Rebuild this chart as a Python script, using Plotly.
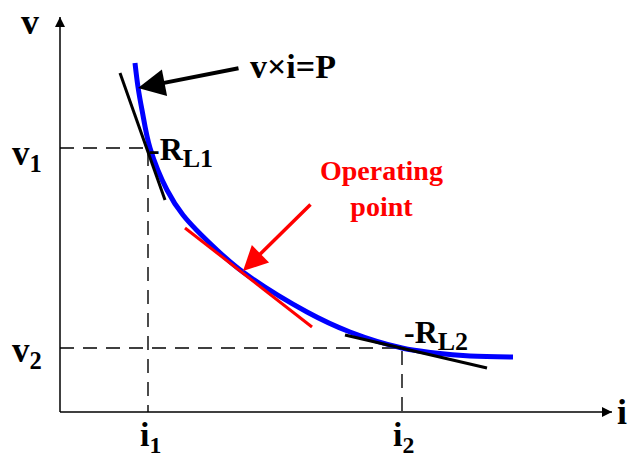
import plotly.graph_objects as go

# Constant-power curve v*i = P, sampled points (i, v)
curve_i = [1.50, 1.56, 1.64, 1.80, 2.14, 2.46, 3.14, 3.66, 4.94, 5.80, 6.84, 7.50, 8.20, 9.06]
curve_v = [8.725, 8.125, 7.55, 6.60, 5.55, 4.925, 4.05, 3.50, 2.50, 2.00, 1.60, 1.475, 1.40, 1.375]

# Marked points on the curve
i1, v1 = 1.76, 6.60
i2, v2 = 6.84, 1.60

# Load lines (tangents) as [start, end]
rl1_i = [1.20, 2.10]
rl1_v = [8.475, 5.30]
op_i = [2.50, 5.04]
op_v = [4.60, 2.125]
rl2_i = [5.70, 8.54]
rl2_v = [1.925, 1.10]

# Axis extents
i_max = 11.04
v_max = 9.875

SERIF = "Liberation Serif"

fig = go.Figure()

# Axes with arrow tips
fig.add_trace(go.Scatter(x=[0, 0], y=[0, v_max], mode="lines",
                         line=dict(color="black", width=1.5), hoverinfo="skip"))
fig.add_trace(go.Scatter(x=[0, i_max], y=[0, 0], mode="lines",
                         line=dict(color="black", width=1.5), hoverinfo="skip"))
fig.add_trace(go.Scatter(x=[0], y=[v_max], mode="markers",
                         marker=dict(symbol="arrow-up", size=10, color="black"), hoverinfo="skip"))
fig.add_trace(go.Scatter(x=[i_max], y=[0], mode="markers",
                         marker=dict(symbol="arrow-right", size=10, color="black"), hoverinfo="skip"))

# Dashed guides to the axes
dash = dict(color="black", width=1.4, dash="14px,9px")
fig.add_trace(go.Scatter(x=[0, i1, i1], y=[v1, v1, 0], mode="lines", line=dash, hoverinfo="skip"))
fig.add_trace(go.Scatter(x=[0, i2, i2], y=[v2, v2, 0], mode="lines", line=dash, hoverinfo="skip"))

# Constant-power curve
fig.add_trace(go.Scatter(x=curve_i, y=curve_v, mode="lines",
                         line=dict(color="#0000ff", width=5, shape="spline", smoothing=1.0),
                         hoverinfo="skip"))

# Load lines
fig.add_trace(go.Scatter(x=rl1_i, y=rl1_v, mode="lines", line=dict(color="black", width=3), hoverinfo="skip"))
fig.add_trace(go.Scatter(x=op_i, y=op_v, mode="lines", line=dict(color="#ff0000", width=3), hoverinfo="skip"))
fig.add_trace(go.Scatter(x=rl2_i, y=rl2_v, mode="lines", line=dict(color="black", width=3), hoverinfo="skip"))

# Pointer arrows
fig.add_annotation(x=1.56, y=8.10, ax=3.60, ay=8.60, xref="x", yref="y", axref="x", ayref="y",
                   text="", showarrow=True, arrowhead=2, arrowsize=1.35, arrowwidth=4, arrowcolor="black")
fig.add_annotation(x=3.66, y=3.525, ax=5.04, ay=5.225, xref="x", yref="y", axref="x", ayref="y",
                   text="", showarrow=True, arrowhead=2, arrowsize=1.4, arrowwidth=3.5, arrowcolor="#ff0000")

def label(x, y, text, size, color="black", xanchor="center"):
    fig.add_annotation(x=x, y=y, xref="x", yref="y", text=text, showarrow=False,
                       xanchor=xanchor, yanchor="middle",
                       font=dict(family=SERIF, size=size, color=color, weight="bold"))

label(-0.60, 9.75, "v", 36)
label(11.24, 0.0, "i", 36)
label(-0.66, 6.425, "v<sub>1</sub>", 35)
label(-0.66, 1.50, "v<sub>2</sub>", 35)
label(1.80, -0.63, "i<sub>1</sub>", 34)
label(6.86, -0.63, "i<sub>2</sub>", 34)
label(4.66, 8.65, "v×i=P", 34)
label(1.74, 6.50, "-R<sub><span style='font-size:26px'>L1</span></sub>", 32, xanchor="left")
label(6.84, 1.925, "-R<sub><span style='font-size:26px'>L2</span></sub>", 32, xanchor="left")
label(6.42, 5.60, "Operating<br>point", 28, color="#ff0000")

fig.update_layout(
    width=628, height=454,
    margin=dict(l=0, r=0, t=0, b=0),
    paper_bgcolor="white", plot_bgcolor="white",
    showlegend=False,
    xaxis=dict(range=[-1.2, 11.36], visible=False, fixedrange=True),
    yaxis=dict(range=[-1.05, 10.3], visible=False, fixedrange=True),
)

fig.write_html("out.html")
